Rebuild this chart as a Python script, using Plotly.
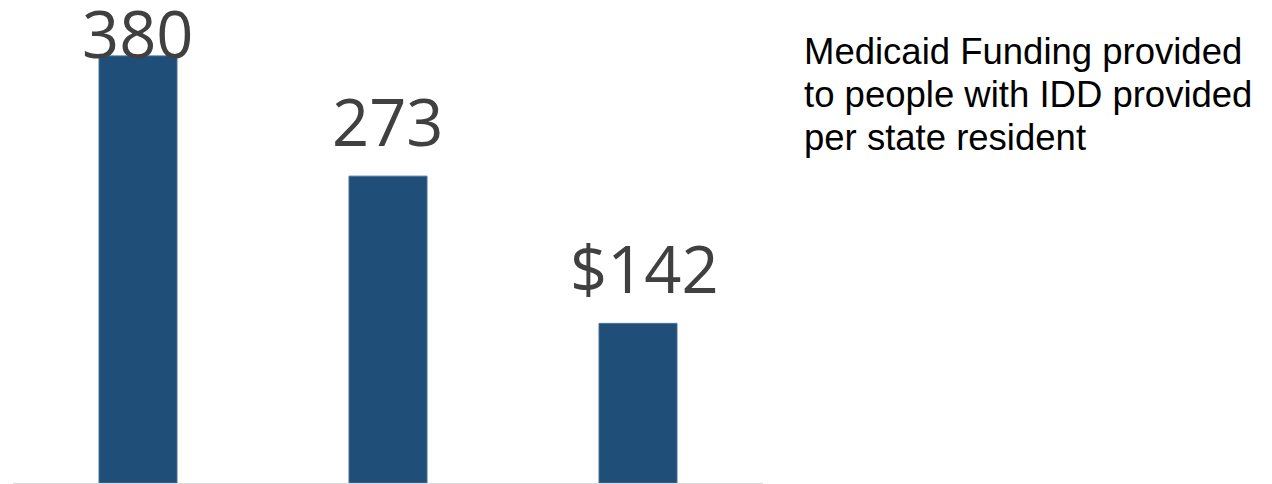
import plotly.graph_objects as go

categories = ["A", "B", "C"]
values = [380, 273, 142]
labels = ["380", "273", "$142"]
label_yshift = [-23, 9, 9]
label_xshift = [0, 0, 6]
legend_lines = ["Medicaid Funding provided", "to people with IDD provided", "per state resident"]
legend_shift = [-21, -64, -107]

fig = go.Figure()
fig.add_trace(go.Bar(
    x=categories, y=values,
    marker=dict(color="#1F4E79", line=dict(color="#4a6f95", width=1)),
    hoverinfo="skip",
))

for c, v, t, s, xs in zip(categories, values, labels, label_yshift, label_xshift):
    fig.add_annotation(x=c, y=v, text=t, showarrow=False, yanchor="bottom",
                       yshift=s, xshift=xs,
                       font=dict(family="Open Sans", size=65, color="#404040"))

for line, s in zip(legend_lines, legend_shift):
    fig.add_annotation(xref="paper", yref="paper", x=1.0, xshift=39, y=1.0, yshift=s,
                       xanchor="left", yanchor="top", align="left", showarrow=False,
                       text=line,
                       font=dict(family="Liberation Sans", size=36.5, color="#000000"))

fig.update_layout(
    width=1264, height=476,
    margin=dict(l=5, r=509, t=0, b=1),
    paper_bgcolor="white", plot_bgcolor="white",
    bargap=0.688, showlegend=False,
    xaxis=dict(showticklabels=False, showgrid=False, zeroline=False,
               showline=True, linecolor="#d9d9d9", linewidth=3, ticks=""),
    yaxis=dict(range=[0, 422.6], visible=False, showgrid=False, zeroline=False),
)

fig.write_html("out.html")
